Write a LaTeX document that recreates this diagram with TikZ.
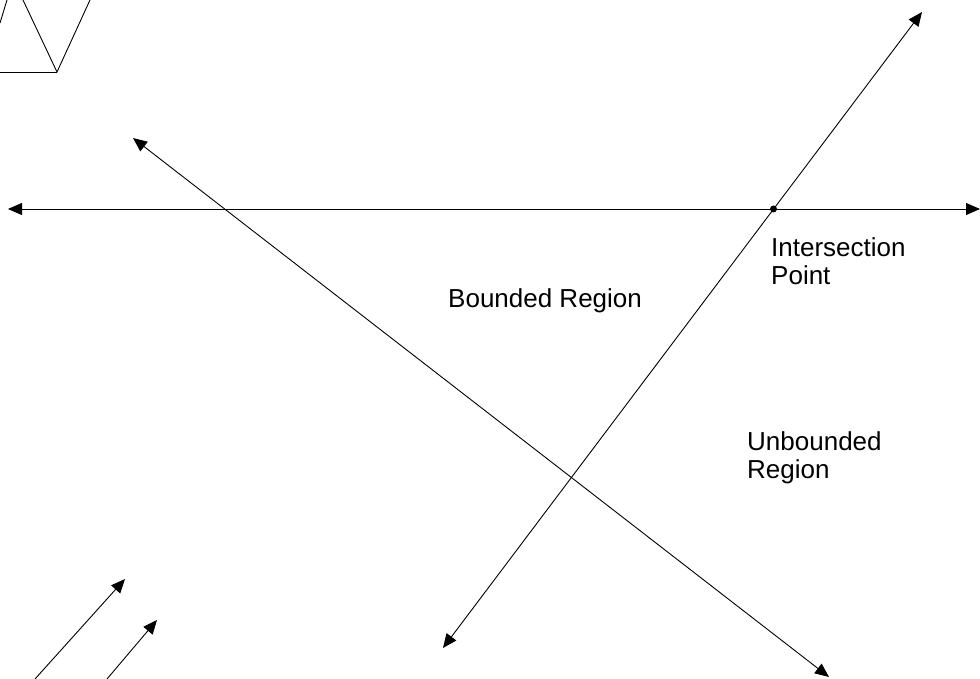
\documentclass[tikz,border=0pt]{standalone}
\usepackage{fontspec}
\setmainfont{Liberation Sans}
\usetikzlibrary{arrows.meta}
\begin{document}
\begin{tikzpicture}[x=1pt,y=-1pt,
  line/.style={line width=0.9pt,black},
  dbl/.style={line, {Triangle[length=14pt,width=12pt]}-{Triangle[length=14pt,width=12pt]}},
  sgl/.style={line, -{Triangle[length=14pt,width=12pt]}},
  lbl/.style={font=\fontsize{26}{28}\selectfont, inner sep=0pt, anchor=base west, align=left}]
\useasboundingbox (0,0) rectangle (980,679);
\clip (0,0) rectangle (980,679);
% shape at top left (partly off the picture)
\coordinate (t1) at (0,23);
\coordinate (t2) at (7,0);
\coordinate (t3) at (23,0);
\coordinate (t4) at (57,72);
\coordinate (t5) at (90,0);
\coordinate (t6) at (0,72);
\draw[line] (t1) -- (t2);
\draw[line] (t3) -- (t4) -- (t5);
\draw[line] (t6) -- (t4);
% lines
\coordinate (hL) at (8,209);
\coordinate (hR) at (980,209);
\coordinate (aB) at (443,648);
\coordinate (aT) at (922,12);
\coordinate (bT) at (133,138);
\coordinate (bB) at (829,677);
\draw[dbl] (hL) -- (hR);
\draw[dbl] (aB) -- (aT);
\draw[dbl] (bT) -- (bB);
\fill (773.5,209) circle (3.5pt) coordinate (ip);
% bottom left arrows
\coordinate (s1) at (35,679);
\coordinate (e1) at (125,579);
\coordinate (s2) at (107,679);
\coordinate (e2) at (157,620);
\draw[sgl] (s1) -- (e1);
\draw[sgl] (s2) -- (e2);
% labels
\node[lbl] (inter) at (771,284) {Intersection\\Point};
\node[lbl] (bounded) at (448,307) {Bounded Region};
\node[lbl] (unbounded) at (747,478) {Unbounded\\Region};
\end{tikzpicture}
\end{document}
